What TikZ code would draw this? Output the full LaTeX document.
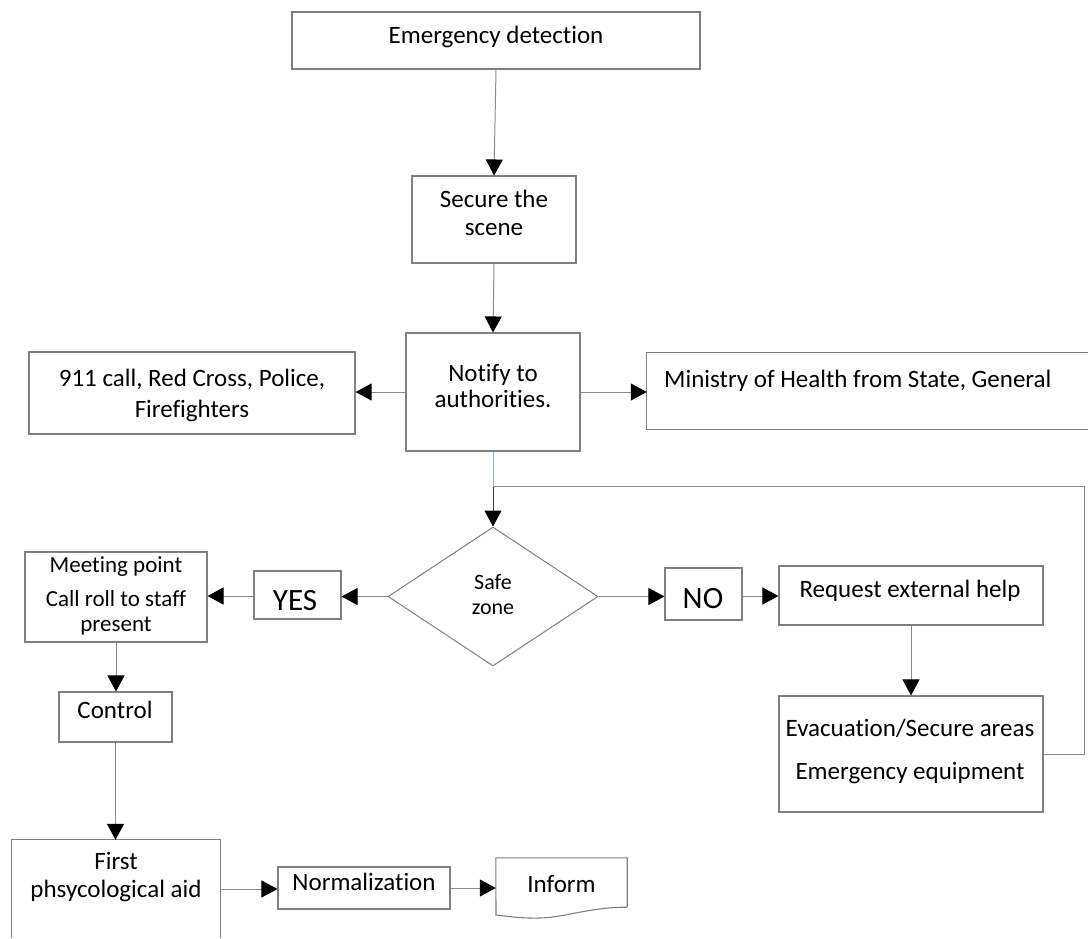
\documentclass[tikz,border=0pt]{standalone}
\usepackage{fontspec}
\setmainfont{Carlito}[Ligatures={NoCommon}]
\usetikzlibrary{arrows.meta,shapes.geometric,calc}
\definecolor{boxgray}{RGB}{128,128,128}
\definecolor{linegray}{RGB}{140,140,140}
\definecolor{lineblue}{RGB}{150,180,210}
\newcommand\fsMain{\fontsize{25}{30}\selectfont}
\newcommand\fsMeet{\fontsize{23}{28}\selectfont}
\newcommand\fsSafe{\fontsize{22}{26}\selectfont}
\newcommand\fsBig{\fontsize{31}{36}\selectfont}
\begin{document}
\begin{tikzpicture}[x=1pt,y=-1pt,
  box/.style={draw=boxgray, line width=1.1pt, inner sep=0pt, rectangle},
  ghost/.style={draw=none, inner sep=0pt, rectangle},
  txt/.style={inner sep=0pt, anchor=base, font=\fsMain},
  conn/.style={draw=linegray, line width=1pt, -{Triangle[length=16pt,width=17pt,color=black]}},
  plain/.style={draw=linegray, line width=1pt}]
\useasboundingbox (0,0) rectangle (1088,938);
\fill[white] (0,0) rectangle (1088,938);

% boxes
\node[box, minimum width=408pt, minimum height=57pt] (emerg) at (496,40.5) {};
\node[txt] (emergT) at (496,43) {Emergency detection};

\node[box, minimum width=164pt, minimum height=87pt] (secure) at (494,219.5) {};
\node[txt] (secureA) at (494,207) {Secure the};
\node[txt] (secureB) at (494,235) {scene};

\node[box, minimum width=174pt, minimum height=118pt] (notify) at (493,392) {};
\node[txt] (notifyA) at (493,381) {Notify to};
\node[txt] (notifyB) at (493,407) {authorities.};

\node[box, minimum width=326pt, minimum height=82pt] (call) at (192,393) {};
\node[txt] (callA) at (192,386) {911 call, Red Cross, Police,};
\node[txt] (callB) at (192,417) {Firefighters};

\node[ghost, minimum width=441pt, minimum height=76pt] (min) at (867.5,391) {};
\draw[draw=boxgray, line width=1.1pt] (min.north east) -- (min.north west) -- (min.south west) -- (min.south east);
\node[txt, anchor=base west] (minT) at (664,387) {Ministry of Health from State, General};

\node[draw=boxgray, line width=1pt, diamond, inner sep=0pt, minimum width=210pt, minimum height=139pt] (safe) at (493,596.5) {};
\node[txt, font=\fsSafe] (safeA) at (493,589) {Safe};
\node[txt, font=\fsSafe] (safeB) at (493,614) {zone};

\node[box, minimum width=87pt, minimum height=48pt] (yes) at (297.5,595) {};
\node[txt, font=\fsBig] (yesT) at (295,610) {YES};

\node[box, minimum width=77pt, minimum height=52pt] (no) at (703.5,594) {};
\node[txt, font=\fsBig] (noT) at (703,608) {NO};

\node[box, minimum width=182pt, minimum height=90pt] (meet) at (116,597) {};
\node[txt, font=\fsMeet] (meetA) at (116,572) {Meeting point};
\node[txt, font=\fsMeet] (meetB) at (116,606) {Call roll to staff};
\node[txt, font=\fsMeet] (meetC) at (116,631) {present};

\node[box, minimum width=264pt, minimum height=59pt] (req) at (911,595.5) {};
\node[txt] (reqT) at (910,597) {Request external help};

\node[box, minimum width=264pt, minimum height=116pt] (evac) at (911,754) {};
\node[txt] (evacA) at (910,736) {Evacuation/Secure areas};
\node[txt] (evacB) at (910,779) {Emergency equipment};

\node[box, minimum width=113pt, minimum height=50pt] (control) at (115.5,717) {};
\node[txt] (controlT) at (115,718) {Control};

\node[ghost, minimum width=208pt, minimum height=98pt] (aid) at (116,889) {};
\draw[draw=boxgray, line width=1.1pt] (aid.south west) -- (aid.north west) -- (aid.north east) -- (aid.south east);
\node[txt] (aidA) at (116,869) {First};
\node[txt] (aidB) at (116,897) {phsycological aid};

\node[box, minimum width=172pt, minimum height=42pt] (norm) at (364,888) {};
\node[txt] (normT) at (364,890) {Normalization};

\node[ghost, minimum width=131pt, minimum height=49pt] (inform) at (561.5,882.5) {};
\draw[draw=boxgray, line width=1.1pt] (inform.south east) -- (inform.north east) -- (inform.north west) -- (496,915)
  .. controls (506,916) and (520,918.5) .. (540,918)
  .. controls (565,917.5) and (590,907) .. (inform.south east);
\node[txt] (informT) at (561.5,892) {Inform};

% connectors
\draw[conn] (emerg.south) -- (secure.north);
\draw[conn] (secure.south) -- (notify.north);
\draw[conn] (notify.west) -- (notify.west -| call.east);
\draw[conn] (notify.east) -- (notify.east -| min.west);
\coordinate (j) at (notify.south |- 0,486);
\coordinate (loopc) at (1084,486);
\draw[draw=lineblue, line width=1pt] (notify.south) -- (j);
\draw[conn, draw=black!75] (j) -- (safe.north);
\draw[plain] (evac.east) -| (loopc) -- (j);
\draw[conn] (safe.west) -- (safe.west -| yes.east);
\draw[conn] (yes.west |- 0,596) -- (meet.east |- 0,596);
\draw[conn] (safe.east) -- (safe.east -| no.west);
\draw[conn] (no.east |- 0,596) -- (req.west |- 0,596);
\draw[conn] (req.south) -- (evac.north);
\draw[conn] (meet.south) -- (meet.south |- control.north);
\draw[conn] (control.south) -- (control.south |- aid.north);
\draw[conn] (aid.east) -- (aid.east -| norm.west);
\draw[conn] (norm.east) -- (norm.east -| inform.west);
\end{tikzpicture}
\end{document}
